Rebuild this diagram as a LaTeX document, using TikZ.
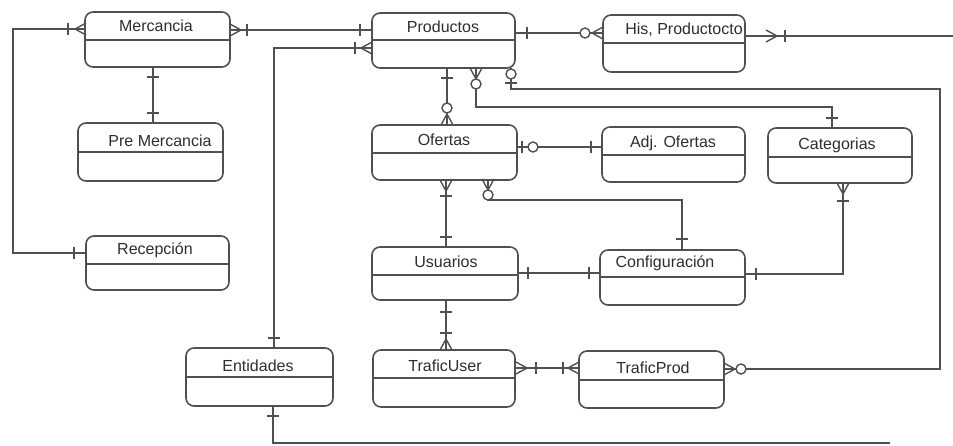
\documentclass[tikz,border=0pt]{standalone}
\usepackage{fontspec}
\setmainfont{Liberation Sans}
\usetikzlibrary{calc}
\definecolor{ink}{HTML}{505050}
\definecolor{txt}{HTML}{2E2E2E}

\tikzset{
  ent/.style={draw=ink, rounded corners=8pt, line width=1.6pt, inner sep=0pt, outer sep=0pt},
  divline/.style={draw=ink, line width=1.5pt},
  lbl/.style={text=txt, font=\fontsize{16}{19}\selectfont, inner sep=0pt},
  rel/.style={draw=ink, line width=1.4pt},
  cardline/.style={draw=ink, line width=1.4pt},
  % cardinality marks: local +x points towards the entity
  mbar/.pic={\draw[cardline] (0,-6) -- (0,6);},
  mcrow/.pic={\draw[cardline] (0,0) -- (11,-6) (0,0) -- (11,0) (0,0) -- (11,6);},
  mcirc/.pic={\draw[cardline, fill=white] (0,0) circle (5);}
}

% entity box: name, x1, y1, x2, y2, y of the header divider
\newcommand{\erbox}[6]{%
  \node[ent, minimum width={#4-#2}, minimum height={#5-#3}] (#1) at ({(#2+#4)/2},{(#3+#5)/2}) {};
  \draw[divline] (#1.west |- 0,#6) -- (#1.east |- 0,#6);
}

\begin{document}
\begin{tikzpicture}[x=1pt, y=-1pt]
\useasboundingbox (0,0) rectangle (953,445);

% entities
\erbox{merc}{85}{12}{230}{67}{40}
\erbox{prod}{372}{13}{515}{68}{40}
\erbox{his}{603}{15}{745}{72}{43}
\erbox{pre}{78}{123}{223}{181}{152}
\erbox{recep}{86}{236}{229}{290}{264}
\erbox{ofer}{372}{125}{517}{180}{153}
\erbox{adj}{602}{127}{745}{182}{155}
\erbox{cat}{768}{128}{912}{183}{157}
\erbox{usu}{372}{247}{518}{300}{275}
\erbox{conf}{600}{250}{745}{305}{277}
\erbox{ent}{186}{348}{333}{406}{377}
\erbox{tu}{373}{350}{515}{407}{378}
\erbox{tp}{579}{351}{724}{408}{380}

% entity titles
\node[lbl] (merc-t)  at (156,26)  {Mercancia};
\node[lbl] (prod-t)  at (443,27)  {Productos};
\node[lbl] (his-t)   at (684,30)  {His, Productocto};
\node[lbl] (pre-t)   at (160,141) {Pre Mercancia};
\node[lbl] (recep-t) at (155,250) {Recepción};
\node[lbl] (ofer-t)  at (444,140) {Ofertas};
\node[lbl] (adj-t)   at (673,143) {Adj. Ofertas};
\node[lbl] (cat-t)   at (837,145) {Categorias};
\node[lbl] (usu-t)   at (446,262) {Usuarios};
\node[lbl] (conf-t)  at (665,263) {Configuración};
\node[lbl] (ent-t)   at (258,366) {Entidades};
\node[lbl] (tu-t)    at (445,366) {TraficUser};
\node[lbl] (tp-t)    at (653,368) {TraficProd};

% loose ends running off the sheet
\coordinate (edgeR) at (953,36);
\coordinate (edgeB) at (890,443);

% relationships
\draw[rel] (merc.west |- 0,29) -- (13,29) -- (13,253) -- (recep.west |- 0,253);
\draw[rel] (merc.south -| 153,0) -- (pre.north -| 153,0);
\draw[rel] (merc.east |- 0,30) -- (prod.west |- 0,30);
\draw[rel] (prod.west |- 0,48) -- (274,48) -- (ent.north -| 274,0);
\draw[rel] (prod.east |- 0,33) -- (his.west |- 0,33);
\draw[rel] (his.east |- 0,36) -- (edgeR);
\draw[rel] (prod.south -| 447,0) -- (ofer.north -| 447,0);
\draw[rel] (prod.south -| 476,0) -- (476,107) -- (832,107) -- (cat.north -| 832,0);
\draw[rel] (prod.south -| 511,0) -- (511,89) -- (940,89) -- (940,369) -- (tp.east |- 0,369);
\draw[rel] (ofer.east |- 0,147) -- (adj.west |- 0,147);
\draw[rel] (ofer.south -| 446,0) -- (usu.north -| 446,0);
\draw[rel] (ofer.south -| 488,0) -- (488,200) -- (682,200) -- (conf.north -| 682,0);
\draw[rel] (usu.east |- 0,273) -- (conf.west |- 0,273);
\draw[rel] (conf.east |- 0,274) -- (843,274) -- (cat.south -| 843,0);
\draw[rel] (usu.south -| 446,0) -- (tu.north -| 446,0);
\draw[rel] (tu.east |- 0,368) -- (tp.west |- 0,368);
\draw[rel] (ent.south -| 273,0) -- (273,443) -- (edgeB);

% cardinality marks
% Mercancia - Recepcion
\pic at (75,29) {mcrow};
\pic at (68,29) {mbar};
\pic at (74,253) {mbar};
% Mercancia - Pre Mercancia
\pic[rotate=90] at (153,77) {mbar};
\pic[rotate=90] at (153,113) {mbar};
% Mercancia - Productos
\pic[rotate=180] at (241,30) {mcrow};
\pic at (247,30) {mbar};
\pic at (360,30) {mbar};
% Productos - Entidades
\pic at (361,48) {mcrow};
\pic at (355,48) {mbar};
\pic[rotate=90] at (274,338) {mbar};
% Productos - His, Productocto
\pic at (527,33) {mbar};
\pic at (585,33) {mcirc};
\pic at (592,33) {mcrow};
\pic[rotate=180] at (777,36) {mcrow};
\pic at (785,36) {mbar};
% Productos - Ofertas
\pic[rotate=90] at (447,78) {mbar};
\pic at (447,108) {mcirc};
\pic[rotate=-90] at (447,114) {mcrow};
% Productos - Categorias
\pic[rotate=90] at (476,79) {mcrow};
\pic at (476,84) {mcirc};
\pic[rotate=90] at (832,118) {mbar};
% Productos - TraficProd
\pic at (511,74) {mcirc};
\pic[rotate=90] at (511,83) {mbar};
\pic[rotate=180] at (735,369) {mcrow};
\pic at (741,369) {mcirc};
% Ofertas - Adj. Ofertas
\pic at (522,147) {mbar};
\pic at (533,147) {mcirc};
\pic at (591,147) {mbar};
% Ofertas - Usuarios
\pic[rotate=90] at (446,191) {mcrow};
\pic[rotate=90] at (446,196) {mbar};
\pic[rotate=90] at (446,237) {mbar};
% Ofertas - Configuracion
\pic[rotate=90] at (488,190) {mcrow};
\pic at (488,195) {mcirc};
\pic[rotate=90] at (682,239) {mbar};
% Usuarios - Configuracion
\pic at (528,273) {mbar};
\pic at (589,273) {mbar};
% Configuracion - Categorias
\pic at (756,274) {mbar};
\pic[rotate=90] at (843,194) {mcrow};
\pic[rotate=90] at (843,201) {mbar};
% Usuarios - TraficUser
\pic[rotate=90] at (446,312) {mbar};
\pic[rotate=90] at (446,333) {mbar};
\pic[rotate=-90] at (446,339) {mcrow};
% TraficUser - TraficProd
\pic[rotate=180] at (527,368) {mcrow};
\pic at (536,368) {mbar};
\pic at (563,368) {mbar};
\pic at (568,368) {mcrow};
% Entidades
\pic[rotate=90] at (273,416) {mbar};
\end{tikzpicture}
\end{document}
